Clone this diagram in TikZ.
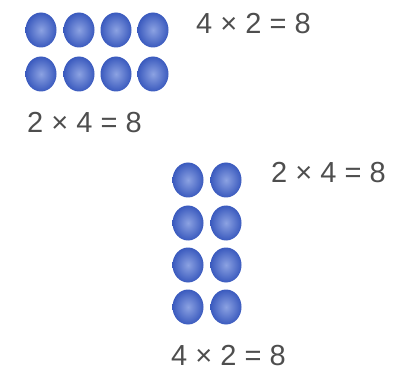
\documentclass[tikz,border=0pt]{standalone}
\usepackage{fontspec}
\setmainfont{Liberation Sans}
\usetikzlibrary{shapes.geometric}
\definecolor{dotblue}{RGB}{58,90,190}
\definecolor{dotlight}{RGB}{140,162,226}
\definecolor{textgrey}{RGB}{78,78,78}
\begin{document}
\begin{tikzpicture}[
    x=1pt,
    y=-1pt,
    counter/.style={ellipse,inner sep=0pt,minimum width=31,minimum height=35,
      inner color=dotlight,outer color=dotblue},
    sumlabel/.style={font=\fontsize{29}{31}\selectfont,text=textgrey,
      inner sep=0pt,text depth=0pt,anchor=base west}
  ]
    \useasboundingbox (0,0) rectangle (393,371);

    % two rows of four
    \foreach \c/\x in {1/41,2/79,3/116,4/153}
      \foreach \r/\y in {1/30,2/74}
        \node[counter] (a\r\c) at (\x,\y) {};
    \node[sumlabel] (atop) at (196,34) {4 × 2 = 8};
    \node[sumlabel] (abot) at (27,133) {2 × 4 = 8};

    % four rows of two
    \foreach \c/\x in {1/188,2/226}
      \foreach \r/\y in {1/180,2/223,3/265,4/307}
        \node[counter] (b\r\c) at (\x,\y) {};
    \node[sumlabel] (btop) at (271,183) {2 × 4 = 8};
    \node[sumlabel] (bbot) at (171,365) {4 × 2 = 8};
  \end{tikzpicture}
\end{document}
